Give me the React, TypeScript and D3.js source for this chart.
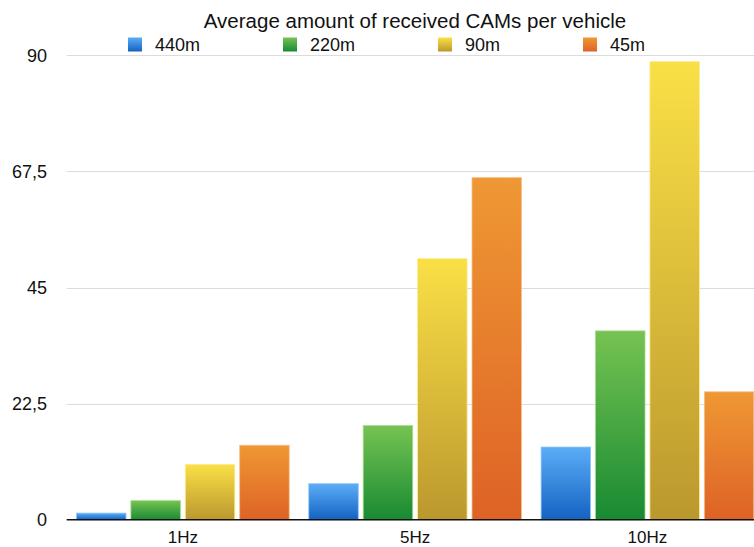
import React, { useEffect } from "react";
import * as d3 from "d3";

const categories = ["1Hz", "5Hz", "10Hz"];
const seriesNames = ["440m", "220m", "90m", "45m"];
const values440 = [1.3, 7.0, 14.1];
const values220 = [3.7, 18.25, 36.6];
const values90 = [10.75, 50.6, 88.8];
const values45 = [14.45, 66.3, 24.8];
const yTicks = [0, 22.5, 45, 67.5, 90];

const seriesValues = [values440, values220, values90, values45];
const gradients = [
  { top: "#5cadf7", bottom: "#1462c2", edge: "#8cc6fa" },
  { top: "#76c352", bottom: "#188a32", edge: "#a6da8c" },
  { top: "#fae046", bottom: "#bb982e", edge: "#fcec96" },
  { top: "#ef9834", bottom: "#de6226", edge: "#f5c08a" },
];

const W = 754;
const H = 547;
const FONT = "'Liberation Sans', Arial, Helvetica, sans-serif";

export default function App() {
  useEffect(() => {
    document.body.style.margin = "0";
  }, []);

  const plotLeft = 66.7;
  const y = d3.scaleLinear().domain([0, 90]).range([519.8, 55.3]);
  const x0 = d3
    .scaleBand<string>()
    .domain(categories)
    .range([plotLeft, plotLeft + 3 * 232.3]);
  const x1 = d3
    .scaleBand<string>()
    .domain(seriesNames)
    .range([0, x0.bandwidth()])
    .paddingInner(0.09)
    .paddingOuter(0.18);

  const fmt = (v: number) => String(v).replace(".", ",");

  const legendX = [128, 283, 438, 583];

  return (
    <svg width={W} height={H} style={{ display: "block", background: "#fff" }} fontFamily={FONT}>
      <defs>
        {gradients.map((g, i) => (
          <linearGradient key={i} id={`grad${i}`} x1="0" y1="0" x2="0" y2="1">
            <stop offset="0%" stopColor={g.top} />
            <stop offset="100%" stopColor={g.bottom} />
          </linearGradient>
        ))}
      </defs>

      {/* horizontal gridlines */}
      {yTicks
        .filter((t) => t > 0)
        .map((t) => (
          <line
            key={t}
            x1={plotLeft}
            x2={W}
            y1={Math.round(y(t)) + 0.5}
            y2={Math.round(y(t)) + 0.5}
            stroke="#dcdcdc"
            strokeWidth={1.2}
          />
        ))}

      {/* y tick labels */}
      {yTicks.map((t) => (
        <text
          key={t}
          x={47}
          y={y(t)}
          dy="0.36em"
          textAnchor="end"
          fontSize={18}
          fill="#111"
        >
          {fmt(t)}
        </text>
      ))}

      {/* bars */}
      {categories.map((c, ci) => (
        <g key={c} transform={`translate(${x0(c)},0)`}>
          {seriesNames.map((s, si) => {
            const v = seriesValues[si][ci];
            const top = y(v);
            return (
              <rect
                key={s}
                x={x1(s)!}
                y={top}
                width={x1.bandwidth()}
                height={y(0) - top}
                fill={`url(#grad${si})`}
                stroke={gradients[si].edge}
                strokeWidth={0.8}
              />
            );
          })}
        </g>
      ))}

      {/* baseline */}
      <line x1={plotLeft} x2={W} y1={y(0)} y2={y(0)} stroke="#111" strokeWidth={1.6} />

      {/* category labels */}
      {categories.map((c) => (
        <text
          key={c}
          x={x0(c)! + x0.bandwidth() / 2}
          y={543}
          textAnchor="middle"
          fontSize={17}
          fill="#111"
        >
          {c}
        </text>
      ))}

      {/* title */}
      <text x={415} y={27.7} textAnchor="middle" fontSize={20.5} fill="#111">
        Average amount of received CAMs per vehicle
      </text>

      {/* legend */}
      {seriesNames.map((s, i) => (
        <g key={s} transform={`translate(${legendX[i]},37.5)`}>
          <rect width={14} height={14} fill={`url(#grad${i})`} />
          <text x={27} y={13.4} fontSize={18} fill="#111">
            {s}
          </text>
        </g>
      ))}
    </svg>
  );
}
